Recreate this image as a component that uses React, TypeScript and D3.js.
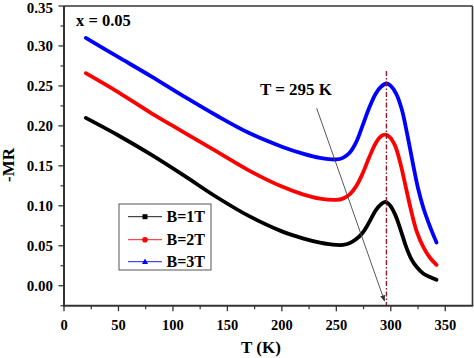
import React from "react";
import * as d3 from "d3";

const xTicks = [0, 50, 100, 150, 200, 250, 300, 350];
const yTicks = [0.0, 0.05, 0.1, 0.15, 0.2, 0.25, 0.3, 0.35];

const T1 = [20, 50, 80, 110, 140, 170, 200, 220, 235, 250, 256, 262, 268, 274, 280, 286, 291, 295, 299, 304, 309, 314, 319, 324, 330, 336, 342];
const B1 = [0.21, 0.188, 0.164, 0.138, 0.111, 0.087, 0.068, 0.059, 0.054, 0.051, 0.051, 0.053, 0.058, 0.066, 0.079, 0.094, 0.102, 0.105, 0.101, 0.089, 0.07, 0.049, 0.033, 0.023, 0.015, 0.011, 0.0075];

const T2 = [20, 50, 80, 110, 140, 170, 200, 220, 235, 250, 256, 262, 268, 274, 280, 286, 291, 295, 299, 304, 309, 314, 319, 324, 330, 336, 342];
const B2 = [0.266, 0.242, 0.216, 0.192, 0.168, 0.144, 0.124, 0.114, 0.109, 0.1075, 0.109, 0.114, 0.124, 0.14, 0.16, 0.178, 0.187, 0.189, 0.186, 0.175, 0.152, 0.122, 0.092, 0.067, 0.048, 0.035, 0.026];

const T3 = [20, 50, 80, 110, 140, 170, 200, 220, 235, 250, 256, 262, 268, 274, 280, 286, 291, 296, 300, 305, 310, 315, 320, 325, 330, 336, 342];
const B3 = [0.31, 0.286, 0.262, 0.237, 0.213, 0.191, 0.174, 0.165, 0.16, 0.158, 0.16, 0.166, 0.179, 0.2, 0.222, 0.24, 0.249, 0.253, 0.25, 0.24, 0.221, 0.19, 0.155, 0.122, 0.097, 0.074, 0.054];

const seriesNames = ["B=1T", "B=2T", "B=3T"];
const seriesColors = ["#000000", "#ff0000", "#0000ff"];
const seriesT = [T1, T2, T3];
const seriesV = [B1, B2, B3];

const peakT = 296;

export default function App() {
  const W = 474, H = 358;
  const left = 64, right = 472.5, top = 6, bottom = 305.7;
  const x = d3.scaleLinear().domain([0, 375]).range([left, right]);
  const y = d3.scaleLinear().domain([-0.025, 0.35]).range([bottom, top]);
  const font = "'Liberation Serif', 'Times New Roman', serif";
  const axisColor = "#333";

  const line = d3
    .line<[number, number]>()
    .x((d) => x(d[0]))
    .y((d) => y(d[1]))
    .curve(d3.curveCatmullRom.alpha(0.5));

  const xMinor = d3.range(25, 375, 50);
  const yMinor = d3.range(-0.025, 0.35, 0.05).map((v) => +v.toFixed(3));

  const legX = 119, legY = 204;
  const rowY = [216.7, 239.7, 261.7];

  const marker = (i: number, cx: number, cy: number, color: string) => {
    if (i === 0) return <rect x={cx - 2.5} y={cy - 2.5} width={5} height={5} fill={color} />;
    if (i === 1) return <circle cx={cx} cy={cy} r={2.8} fill={color} />;
    return <path d={`M${cx},${cy - 3.2}L${cx + 3},${cy + 2.2}L${cx - 3},${cy + 2.2}Z`} fill={color} />;
  };

  return (
    <svg width={W} height={H} style={{ position: "absolute", left: 0, top: 0, background: "#fff" }}>
      <defs>
        <marker id="arr" viewBox="0 0 10 10" refX="9" refY="5" markerWidth="7" markerHeight="7" orient="auto-start-reverse">
          <path d="M0,1L10,5L0,9Z" fill="#333" />
        </marker>
      </defs>
      <rect x={0} y={0} width={W} height={H} fill="#fff" />

      {/* series */}
      {seriesT.map((ts, i) => (
        <path
          key={i}
          d={line(ts.map((t, j) => [t, seriesV[i][j]] as [number, number])) || ""}
          fill="none"
          stroke={seriesColors[i]}
          strokeWidth={3.8}
          strokeLinejoin="round"
          strokeLinecap="round"
        />
      ))}

      {/* peak dash-dot line */}
      <line x1={x(peakT)} x2={x(peakT)} y1={71} y2={bottom} stroke="#8b1a2a" strokeWidth={1.4} strokeDasharray="5,2,1.5,2" />

      {/* arrow */}
      <line x1={316.7} y1={108.3} x2={384.5} y2={301} stroke="#444" strokeWidth={0.9} markerEnd="url(#arr)" />
      <text x={296} y={95} textAnchor="middle" fontFamily={font} fontWeight="bold" fontSize={17}>T = 295 K</text>
      <text x={76} y={26} fontFamily={font} fontWeight="bold" fontSize={16.5}>x = 0.05</text>

      {/* frame */}
      <line x1={left} x2={right} y1={top} y2={top} stroke={axisColor} strokeWidth={1.6} />
      <line x1={right} x2={right} y1={top} y2={bottom} stroke={axisColor} strokeWidth={1.6} />
      <line x1={left} x2={left} y1={top} y2={bottom + 1} stroke={axisColor} strokeWidth={2} />
      <line x1={left - 1} x2={right + 0.8} y1={bottom} y2={bottom} stroke={axisColor} strokeWidth={2} />

      {/* x ticks */}
      {xTicks.map((t) => (
        <g key={"xt" + t}>
          <line x1={x(t)} x2={x(t)} y1={bottom} y2={bottom + 5.5} stroke={axisColor} strokeWidth={1.3} />
          <text x={x(t)} y={330} textAnchor="middle" fontFamily={font} fontWeight="bold" fontSize={14.5}>{t}</text>
        </g>
      ))}
      {xMinor.map((t) => (
        <line key={"xm" + t} x1={x(t)} x2={x(t)} y1={bottom} y2={bottom + 3.5} stroke={axisColor} strokeWidth={1.2} />
      ))}

      {/* y ticks */}
      {yTicks.map((t) => (
        <g key={"yt" + t}>
          <line x1={left} x2={left - 5.5} y1={y(t)} y2={y(t)} stroke={axisColor} strokeWidth={1.3} />
          <text x={53} y={Math.max(y(t), 7.5)} dy="0.35em" textAnchor="end" fontFamily={font} fontWeight="bold" fontSize={15}>{t.toFixed(2)}</text>
        </g>
      ))}
      {yMinor.map((t) => (
        <line key={"ym" + t} x1={left} x2={left - 3.5} y1={y(t)} y2={y(t)} stroke={axisColor} strokeWidth={1.2} />
      ))}

      {/* axis titles */}
      <text x={261} y={353} textAnchor="middle" fontFamily={font} fontWeight="bold" fontSize={17}>T (K)</text>
      <text transform={`translate(14,165) rotate(-90)`} textAnchor="middle" fontFamily={font} fontWeight="bold" fontSize={17}>-MR</text>

      {/* legend */}
      <rect x={legX} y={legY} width={92} height={66} fill="#fff" stroke="#555" strokeWidth={1} />
      {seriesNames.map((n, i) => (
        <g key={n}>
          <line x1={128} x2={162} y1={rowY[i]} y2={rowY[i]} stroke={seriesColors[i]} strokeWidth={0.9} />
          {marker(i, 145, rowY[i], seriesColors[i])}
          <text x={166.5} y={rowY[i]} dy="0.36em" fontFamily={font} fontWeight="bold" fontSize={16}>{n}</text>
        </g>
      ))}
    </svg>
  );
}
